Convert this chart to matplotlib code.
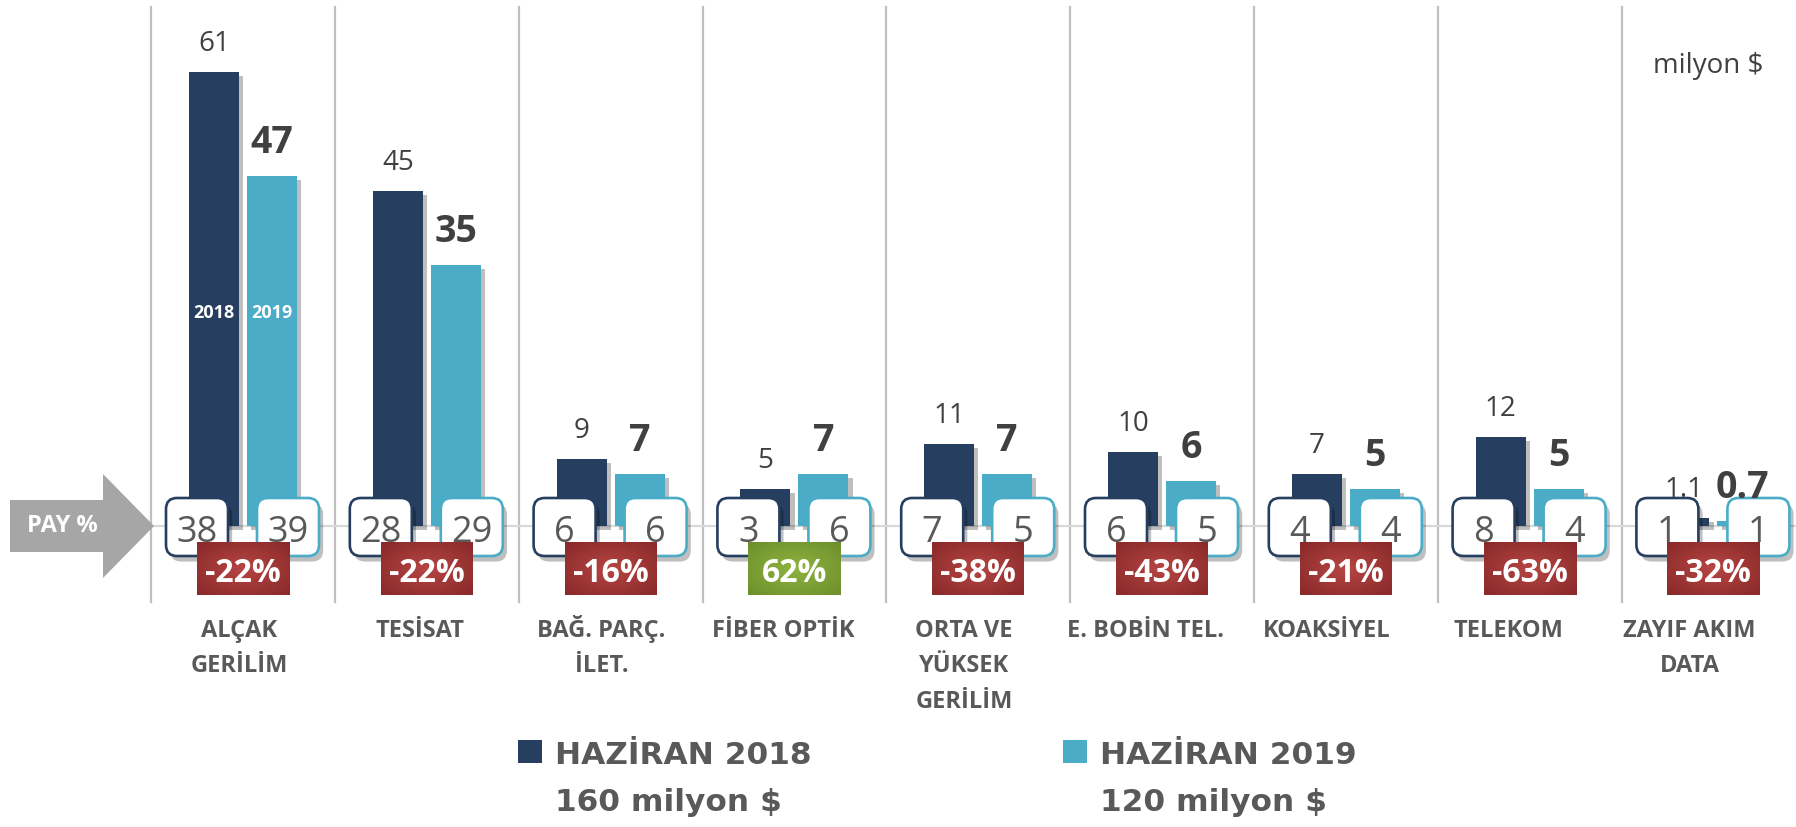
import matplotlib
matplotlib.use("Agg")
import matplotlib.pyplot as plt
import matplotlib.patches as mpatches
import matplotlib.patheffects as pe
import matplotlib.transforms as mtransforms
import numpy as np

# data
categories = ["ALÇAK\nGERİLİM", "TESİSAT", "BAĞ. PARÇ.\nİLET.", "FİBER OPTİK",
              "ORTA VE\nYÜKSEK\nGERİLİM", "E. BOBİN TEL.", "KOAKSİYEL",
              "TELEKOM", "ZAYIF AKIM\nDATA"]
values_2018 = [61, 45, 9, 5, 11, 10, 7, 12, 1.1]
values_2019 = [47, 35, 7, 7, 7, 6, 5, 5, 0.7]
share_2018 = [38, 28, 6, 3, 7, 6, 4, 8, 1]
share_2019 = [39, 29, 6, 6, 5, 5, 4, 4, 1]
change_pct = [-22, -22, -16, 62, -38, -43, -21, -63, -32]
series_names = ["HAZİRAN 2018", "HAZİRAN 2019"]
series_totals = ["160 milyon $", "120 milyon $"]
unit_label = "milyon $"
share_label = "PAY %"

DARK = "#263f60"
LIGHT = "#4aacc6"
TXT = "#404040"
GREY_TXT = "#595959"

W, H = 1796, 827
fig = plt.figure(figsize=(W / 100, H / 100), dpi=100)
ax = fig.add_axes([0, 0, 1, 1])
step, ppu = 183.8, 7.45          # pixels per category / per million
x0, base = 243, 526
xlim = (-x0 / step, (W - x0) / step)
ylim = (-(H - base) / ppu, base / ppu)
ax.set_xlim(*xlim)
ax.set_ylim(*ylim)
ax.axis("off")

plt.rcParams["font.family"] = ["Open Sans", "DejaVu Sans"]

ident = mtransforms.IdentityTransform()


def to_px(x, y):
    # data -> pixel coordinates (y from bottom)
    return ax.transData.transform((x, y))


def px_top(x, y):
    # pixel coords measured from the top -> display coords
    return x, H - y


idx = np.arange(len(categories))
bw = 50 / step
off = 29 / step
shadow = [pe.SimplePatchShadow(offset=(3, -3), shadow_rgbFace="k", alpha=0.25), pe.Normal()]

# grid lines
for i in idx:
    ax.axvline(i - 0.5, ymin=1 - 602 / H, ymax=1 - 7 / H, color="#bfbfbf", lw=1.6, zorder=0)
ax.axhline(0, xmin=154 / W, xmax=1, color="#d9d9d9", lw=1.6, zorder=0)

# bars
b1 = ax.bar(idx - off, values_2018, bw, color=DARK, zorder=2)
b2 = ax.bar(idx + off, values_2019, bw, color=LIGHT, zorder=2)
for b in list(b1) + list(b2):
    b.set_path_effects(shadow)

# value labels
for i in idx:
    v1, v2 = values_2018[i], values_2019[i]
    ax.annotate(f"{v1:g}", (i - off, v1), xytext=(0, 15), textcoords="offset points",
                ha="center", va="baseline", fontsize=20, color=TXT, zorder=6)
    ax.annotate(f"{v2:g}", (i + off, v2), xytext=(0, 16.5), textcoords="offset points",
                ha="center", va="baseline", fontsize=27, fontweight="bold", color=TXT, zorder=6)

# year labels inside first bars
ax.text(0 - off, 28.6, "2018", ha="center", va="center", fontsize=13, fontweight="bold",
        color="white", zorder=3)
ax.text(0 + off, 28.6, "2019", ha="center", va="center", fontsize=13, fontweight="bold",
        color="white", zorder=3)

# share boxes
bw_px, bh_px = 62, 58
for i in idx:
    cx, cy = to_px(i, 0)
    for shift, val, ec in ((-46, share_2018[i], DARK), (45, share_2019[i], LIGHT)):
        bx = cx + shift
        box = mpatches.FancyBboxPatch((bx - bw_px / 2, cy - 1 - bh_px / 2), bw_px, bh_px,
                                      boxstyle="round,pad=0,rounding_size=11",
                                      fc="white", ec=ec, lw=1.9, transform=ident, zorder=4)
        box.set_path_effects([pe.SimplePatchShadow(offset=(3, -4), shadow_rgbFace="k", alpha=0.25),
                              pe.Normal()])
        ax.add_patch(box)
        ax.text(bx, cy - 16, str(val), ha="center", va="baseline", fontsize=26,
                color=GREY_TXT, transform=ident, zorder=5)

# change boxes with a radial shade
gy, gx = np.mgrid[-1:1:60j, -1:1:100j]
rad = np.clip(np.sqrt(gx ** 2 + gy ** 2) / 1.35, 0, 1)[..., None]
red_c, red_e = np.array([182, 70, 68]) / 255, np.array([138, 42, 42]) / 255
grn_c, grn_e = np.array([142, 180, 64]) / 255, np.array([110, 144, 44]) / 255
inv = ax.transData.inverted()
for i in idx:
    cx, cy = to_px(i, 0)
    c, e = (grn_c, grn_e) if change_pct[i] > 0 else (red_c, red_e)
    img = c * (1 - rad) + e * rad
    (xa, ya) = inv.transform((cx - 46, cy - 16))
    (xb, yb) = inv.transform((cx + 46, cy - 69))
    ax.imshow(img, extent=[xa, xb, yb, ya], aspect="auto", zorder=7, interpolation="bilinear")
    ax.text(cx, cy - 56, f"{change_pct[i]}%", ha="center", va="baseline", fontsize=23,
            fontweight="bold", color="white", transform=ident, zorder=8)
ax.set_xlim(*xlim)
ax.set_ylim(*ylim)

# category labels
for i in idx:
    cx, cy = to_px(i, 0)
    for k, line in enumerate(categories[i].split("\n")):
        ax.text(cx - 4 - 2.5 * i, cy - 111 - 35.5 * k, line, ha="center", va="baseline",
                fontsize=17, fontweight="bold", color=GREY_TXT, transform=ident)

# PAY % arrow
arrow = mpatches.Polygon([px_top(10, 500), px_top(103, 500), px_top(103, 474),
                          px_top(154, 526), px_top(103, 578), px_top(103, 552),
                          px_top(10, 552)], closed=True, fc="#a6a6a6", ec="none",
                         transform=ident, zorder=3)
ax.add_patch(arrow)
ax.text(*px_top(62, 532), share_label, ha="center", va="baseline", fontsize=17,
        fontweight="bold", color="white", transform=ident, zorder=4)

# unit
ax.text(*px_top(1653, 73), unit_label, ha="left", va="baseline", fontsize=20,
        color=TXT, transform=ident)

# legend
for k, (col, name, tot) in enumerate(zip([DARK, LIGHT], series_names, series_totals)):
    lx = 518 + 545 * k
    ax.add_patch(mpatches.Rectangle(px_top(lx, 763), 24, 23, fc=col, ec="none",
                                    transform=ident))
    ax.text(*px_top(lx + 37, 764), name, ha="left", va="baseline", fontsize=22.5,
            fontweight="bold", color=GREY_TXT, family="DejaVu Sans", transform=ident)
    ax.text(*px_top(lx + 37, 811), tot, ha="left", va="baseline", fontsize=22.5,
            fontweight="bold", color=GREY_TXT, family="DejaVu Sans", transform=ident)

fig.savefig("out.png", dpi=100)
